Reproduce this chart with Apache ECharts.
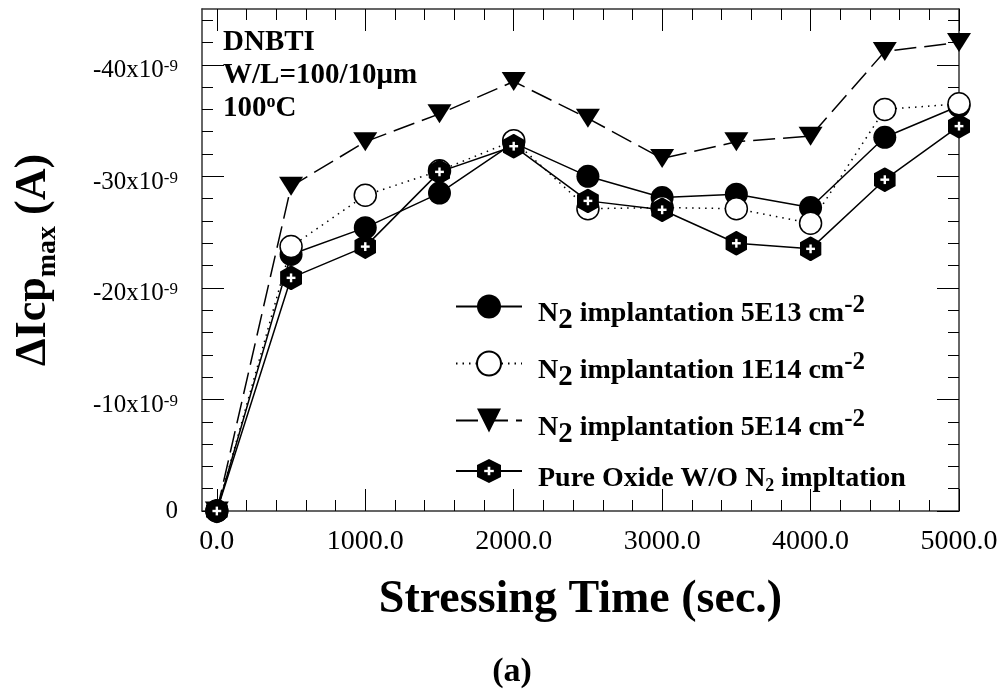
<!DOCTYPE html>
<html><head><meta charset="utf-8">
<script src="https://cdn.jsdelivr.net/npm/echarts@6/dist/echarts.min.js"></script>
<style>html,body{margin:0;padding:0;background:#fff}#c{width:1002px;height:690px}</style>
</head><body><div id="c"></div>
<script>
// Stressing time (sec.)
const times = [0, 500, 1000, 1500, 2000, 2500, 3000, 3500, 4000, 4500, 5000];
// Delta Icp_max, in units of 1e-9 A
const n2_5E13 = [0, -23.0, -25.4, -28.5, -33.0, -30.0, -28.1, -28.4, -27.2, -33.5, -36.3];
const n2_1E14 = [0, -23.7, -28.3, -30.5, -33.2, -27.1, -27.2, -27.1, -25.8, -36.0, -36.5];
const n2_5E14 = [0, -29.1, -33.1, -35.6, -38.5, -35.2, -31.6, -33.1, -33.6, -41.2, -42.0];
const pureOxide = [0, -20.9, -23.7, -30.4, -32.7, -27.8, -27.0, -24.0, -23.5, -29.7, -34.5];

const seriesNames = [
  'N2 implantation 5E13 cm-2',
  'N2 implantation 1E14 cm-2',
  'N2 implantation 5E14 cm-2',
  'Pure Oxide W/O N2 impltation'
];
const legendRich = [
  '{g| }{b|N}{sb|2}{b| implantation 5E13 cm}{sp|-2}',
  '{g| }{b|N}{sb|2}{b| implantation 1E14 cm}{sp|-2}',
  '{g| }{b|N}{sb|2}{b| implantation 5E14 cm}{sp|-2}',
  '{g| }{b|Pure Oxide W/O N}{ss|2}{b| impltation}'
];

const xMajorTicks = [0, 1000, 2000, 3000, 4000, 5000];
const xMinorTicks = [200, 400, 600, 800, 1200, 1400, 1600, 1800, 2200, 2400, 2600, 2800,
                     3200, 3400, 3600, 3800, 4200, 4400, 4600, 4800];
const yMajorTicks = [-40, -30, -20, -10, 0];
const yMinorTicks = [-44, -42, -38, -36, -34, -32, -28, -26, -24, -22, -18, -16, -14, -12, -8, -6, -4, -2];

const FONT = 'Liberation Serif';
const BLACK = '#000';
const FRAME = '#333';

const hexSvg = 'data:image/svg+xml;utf8,' + encodeURIComponent(
  '<svg xmlns="http://www.w3.org/2000/svg" width="44" height="50" viewBox="0 0 22 25">' +
  '<polygon points="11,0 22,6.25 22,18.75 11,25 0,18.75 0,6.25" fill="#000"/>' +
  '<rect x="6.6" y="11.3" width="8.8" height="2.4" fill="#fff"/>' +
  '<rect x="9.8" y="8.1" width="2.4" height="8.8" fill="#fff"/></svg>');

function pairs(vals) { return times.map((t, i) => [t, vals[i]]); }

function xAxisDef(position, ticks, len, withLabel, showLine) {
  const ax = {
    type: 'value', position: position, min: -100, max: 5000,
    splitLine: {show: false},
    axisLine: {show: showLine, onZero: false, lineStyle: {color: FRAME, width: 1.5}},
    axisTick: {show: true, inside: true, length: len, customValues: ticks, lineStyle: {color: BLACK, width: 1}},
    axisLabel: {show: false}
  };
  if (withLabel) {
    ax.axisLabel = {
      show: true, customValues: xMajorTicks, margin: 17,
      formatter: v => v.toFixed(1),
      fontFamily: FONT, fontSize: 28, lineHeight: 28, color: BLACK
    };
    ax.name = 'Stressing Time (sec.)';
    ax.nameLocation = 'middle';
    ax.nameGap = 66;
    ax.nameTextStyle = {fontFamily: FONT, fontWeight: 'bold', fontSize: 46, lineHeight: 46, color: BLACK};
  }
  return ax;
}
function yAxisDef(position, ticks, len, withLabel, showLine) {
  const ax = {
    type: 'value', position: position, min: -45, max: 0, inverse: true,
    splitLine: {show: false},
    axisLine: {show: showLine, onZero: false, lineStyle: {color: FRAME, width: 1.5}},
    axisTick: {show: true, inside: true, length: len, customValues: ticks, lineStyle: {color: BLACK, width: 1}},
    axisLabel: {show: false}
  };
  if (withLabel) {
    ax.axisLabel = {
      show: true, customValues: yMajorTicks, margin: 24,
      formatter: v => v === 0 ? '{z|0}' : '{m|' + v + 'x10}{s|-9}',
      rich: {
        z: {fontFamily: FONT, fontSize: 25, lineHeight: 25, color: BLACK},
        m: {fontFamily: FONT, fontSize: 25, lineHeight: 25, color: BLACK, verticalAlign: 'top', padding: [6, 0, 0, 0]},
        s: {fontFamily: FONT, fontSize: 17, lineHeight: 17, color: BLACK, verticalAlign: 'top', padding: [6, 0, 0, 0]}
      }
    };
    ax.name = '{m|\u0394Icp}{s|max}{m| (A)}';
    ax.nameLocation = 'middle';
    ax.nameGap = 146;
    ax.nameTextStyle = {
      fontFamily: FONT, fontWeight: 'bold', fontSize: 44, color: BLACK,
      rich: {
        m: {fontFamily: FONT, fontWeight: 'bold', fontSize: 44, lineHeight: 44, color: BLACK, verticalAlign: 'top', padding: [0, 0, 0, 0]},
        s: {fontFamily: FONT, fontWeight: 'bold', fontSize: 28, lineHeight: 28, color: BLACK, verticalAlign: 'top', padding: [22, 0, 0, 0]}
      }
    };
  }
  return ax;
}

const legendRichStyles = {
  g: {fontFamily: FONT, fontSize: 10, width: 11, lineHeight: 10},
  b: {fontFamily: FONT, fontWeight: 'bold', fontSize: 28, lineHeight: 28, color: BLACK, verticalAlign: 'top', padding: [8, 0, 6, 0]},
  sb: {fontFamily: FONT, fontWeight: 'bold', fontSize: 29, lineHeight: 29, color: BLACK, verticalAlign: 'top', padding: [14, 0, 0, 0]},
  sp: {fontFamily: FONT, fontWeight: 'bold', fontSize: 25, lineHeight: 25, color: BLACK, verticalAlign: 'top', padding: [1, 0, 0, 0]},
  ss: {fontFamily: FONT, fontWeight: 'bold', fontSize: 18, lineHeight: 18, color: BLACK, verticalAlign: 'top', padding: [20, 0, 0, 0]}
};
const legendTops = [292, 349, 406, 457];
const legends = seriesNames.map((nm, i) => ({
  data: [nm], left: 455, top: legendTops[i], orient: 'vertical', padding: 0,
  itemWidth: 66, itemHeight: 30, selectedMode: false,
  formatter: () => legendRich[i],
  textStyle: {fontFamily: FONT, fontWeight: 'bold', fontSize: 28, color: BLACK, rich: legendRichStyles}
}));

const option = {
  backgroundColor: '#fff',
  animation: false,
  grid: {left: 202, top: 9, width: 757, height: 502, containLabel: false, outerBoundsMode: 'none'},
  title: [
    {text: 'DNBTI\nW/L=100/10\u03bcm\n100{sup|o}C', left: 223, top: 26, padding: 0,
     textStyle: {fontFamily: FONT, fontWeight: 'bold', fontSize: 29, lineHeight: 33, color: BLACK,
       rich: {sup: {fontFamily: FONT, fontWeight: 'bold', fontSize: 18, lineHeight: 18, color: BLACK, verticalAlign: 'top', padding: [1, 0, 0, 0]}}}},
    {text: '(a)', left: 512, top: 655, textAlign: 'center', padding: 0,
     textStyle: {fontFamily: FONT, fontWeight: 'bold', fontSize: 34, lineHeight: 34, color: BLACK}}
  ],
  legend: legends,
  xAxis: [
    xAxisDef('bottom', xMajorTicks, 22, true, true),
    xAxisDef('bottom', xMinorTicks, 11, false, false),
    xAxisDef('top', xMajorTicks, 22, false, true),
    xAxisDef('top', xMinorTicks, 11, false, false)
  ],
  yAxis: [
    yAxisDef('left', yMajorTicks, 22, true, true),
    yAxisDef('left', yMinorTicks, 11, false, false),
    yAxisDef('right', yMajorTicks, 22, false, true),
    yAxisDef('right', yMinorTicks, 11, false, false)
  ],
  series: [
    {name: seriesNames[0], type: 'line', data: pairs(n2_5E13), z: 2,
     symbol: 'circle', symbolSize: 23,
     lineStyle: {color: BLACK, width: 1.5, type: 'solid'},
     itemStyle: {color: BLACK, borderColor: BLACK, borderWidth: 0}},
    {name: seriesNames[1], type: 'line', data: pairs(n2_1E14), z: 3,
     symbol: 'circle', symbolSize: 22,
     lineStyle: {color: BLACK, width: 1.5, type: [1.5, 5]},
     itemStyle: {color: '#fff', borderColor: BLACK, borderWidth: 1.5}},
    {name: seriesNames[2], type: 'line', data: pairs(n2_5E14), z: 4,
     symbol: 'triangle', symbolRotate: 180, symbolSize: [24, 19],
     lineStyle: {color: BLACK, width: 1.5, type: [22, 8]},
     itemStyle: {color: BLACK, borderWidth: 0}},
    {name: seriesNames[3], type: 'line', data: pairs(pureOxide), z: 5,
     symbol: 'image://' + hexSvg, symbolSize: [22, 25],
     lineStyle: {color: BLACK, width: 1.5, type: 'solid'},
     itemStyle: {color: BLACK}}
  ]
};
const chart = echarts.init(document.getElementById('c'));
chart.setOption(option);
</script>
</body></html>
